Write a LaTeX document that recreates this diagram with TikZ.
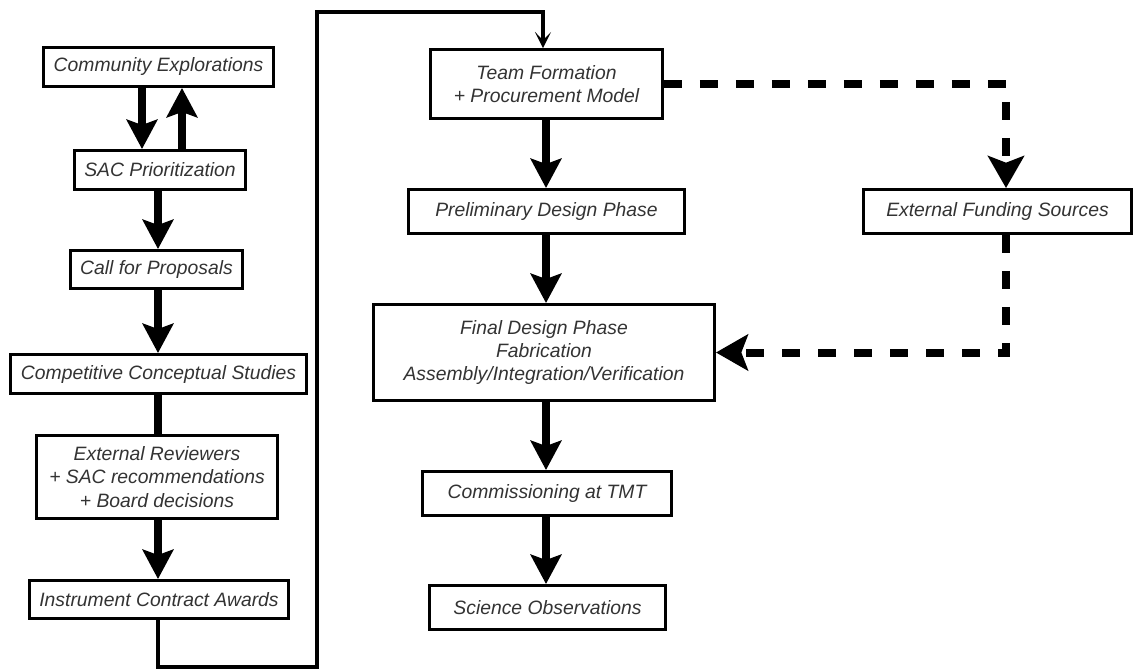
\documentclass[tikz,border=0pt]{standalone}
\usepackage{fontspec}
\setmainfont{Liberation Sans}
\usetikzlibrary{arrows.meta}
\tikzset{
  box/.style={draw=black, line width=2.2pt, fill=white, align=center, inner sep=0pt,
    font=\fontsize{14.5}{17.5}\selectfont\itshape, text=black!80},
  bigarrow/.style={line width=6pt, -{Stealth[length=22pt,width=23pt,inset=4pt]}},
  plainlink/.style={line width=6pt},
  thinarrow/.style={line width=2.6pt, -{Stealth[length=12pt,width=12pt,inset=6pt]}},
  dasharrow/.style={line width=6pt, dash pattern=on 13.5pt off 13.5pt,
    -{Stealth[length=24pt,width=27pt,inset=5pt]}}
}
\begin{document}
\begin{tikzpicture}[x=0.75pt,y=-0.75pt]
\useasboundingbox (0,0) rectangle (1135,671);
% left column
\node[box, minimum width=230*0.75pt, minimum height=39*0.75pt] (comm) at (158.5,67) {Community Explorations};
\node[box, minimum width=171*0.75pt, minimum height=39*0.75pt] (sac) at (160,170) {SAC Prioritization};
\node[box, minimum width=172*0.75pt, minimum height=38*0.75pt] (call) at (156.5,269.5) {Call for Proposals};
\node[box, minimum width=296*0.75pt, minimum height=39*0.75pt] (comp) at (158.5,374) {Competitive Conceptual Studies};
\node[box, minimum width=241*0.75pt, minimum height=83*0.75pt] (ext) at (157,477) {External Reviewers\\+ SAC recommendations\\+ Board decisions};
\node[box, minimum width=259*0.75pt, minimum height=38*0.75pt] (inst) at (159,599.5) {Instrument Contract Awards};
% middle column
\node[box, minimum width=232*0.75pt, minimum height=69*0.75pt] (team) at (546.5,84) {Team Formation\\+ Procurement Model};
\node[box, minimum width=276*0.75pt, minimum height=44*0.75pt] (prel) at (546.5,211.5) {Preliminary Design Phase};
\node[box, minimum width=341*0.75pt, minimum height=96*0.75pt] (fin) at (544,352.5) {Final Design Phase\\Fabrication\\Assembly/Integration/Verification};
\node[box, minimum width=249*0.75pt, minimum height=44*0.75pt] (tmt) at (547,493.5) {Commissioning at TMT};
\node[box, minimum width=236*0.75pt, minimum height=44*0.75pt] (sci) at (547.5,607.5) {Science Observations};
% right
\node[box, minimum width=268*0.75pt, minimum height=44*0.75pt] (fund) at (997.5,211.5) {External Funding Sources};
% helper coordinates
\coordinate (xa) at (142,0);
\coordinate (xb) at (182,0);
\coordinate (xc) at (158,0);
\coordinate (xm) at (546,0);
\coordinate (xd) at (1006,0);
\coordinate (bot) at (317,667);
\coordinate (top) at (543,12);
% connectors
\draw[bigarrow] (comm.south -| xa) -- (sac.north -| xa);
\draw[bigarrow] (sac.north -| xb) -- (comm.south -| xb);
\draw[bigarrow] (sac.south -| xc) -- (call.north -| xc);
\draw[bigarrow] (call.south -| xc) -- (comp.north -| xc);
\draw[plainlink] (comp.south -| xc) -- (ext.north -| xc);
\draw[bigarrow] (ext.south -| xc) -- (inst.north -| xc);
\draw[thinarrow] (inst.south -| xc) |- (bot) |- (top) -- (team.north -| top);
\draw[bigarrow] (team.south -| xm) -- (prel.north -| xm);
\draw[bigarrow] (prel.south -| xm) -- (fin.north -| xm);
\draw[bigarrow] (fin.south -| xm) -- (tmt.north -| xm);
\draw[bigarrow] (tmt.south -| xm) -- (sci.north -| xm);
\draw[dasharrow] (team.east) -| (fund.north -| xd);
\draw[dasharrow] (fund.south -| xd) |- (fin.east);
\end{tikzpicture}
\end{document}
